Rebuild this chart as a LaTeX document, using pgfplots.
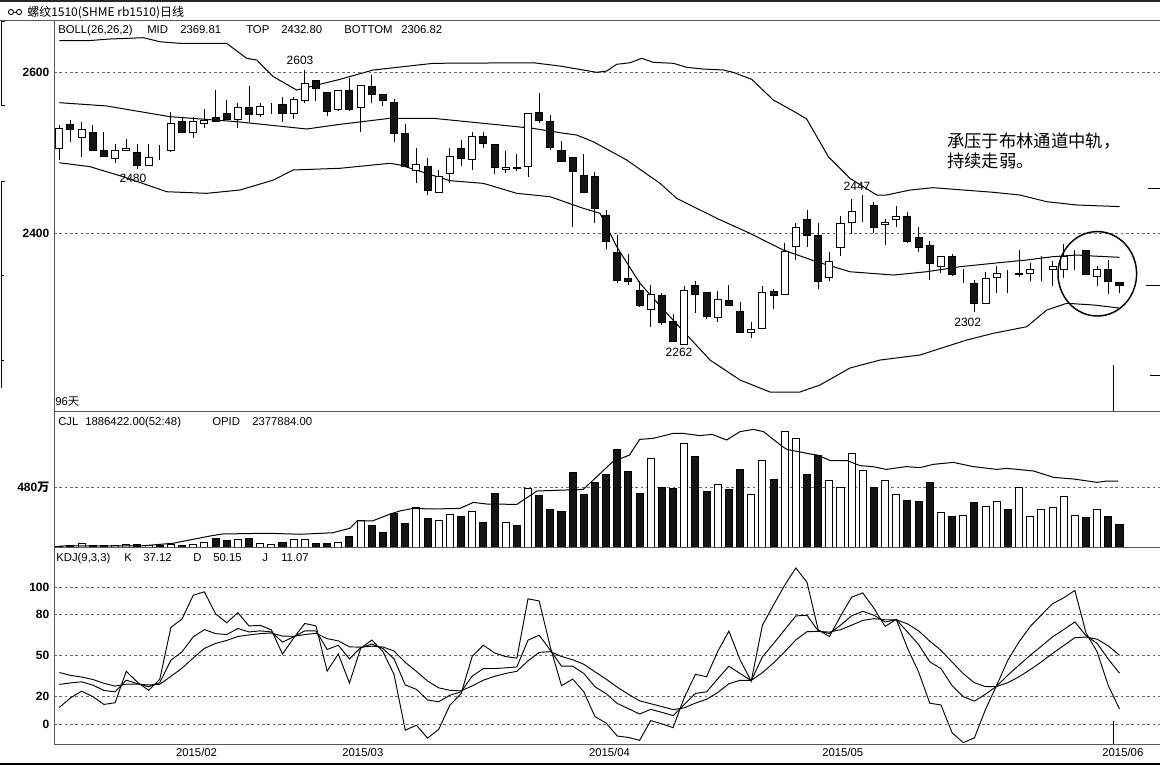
\documentclass[border=0pt]{standalone}
\usepackage{fontspec}
\setmainfont{Liberation Sans}
\newfontfamily\cjk{Noto Sans CJK SC}
\usepackage{pgfplots}
\usepackage{pgfplotstable}
\pgfplotsset{compat=1.18}

\pgfplotstableread{
i o h l c u v
0 2505 2534 2491 2530 1 5
1 2535 2541 2513 2528 0 16
2 2519 2538 2494 2528 1 29
3 2525 2534 2503 2503 0 16
4 2503 2525 2495 2495 0 13
5 2493 2510 2487 2502 1 13
6 2502 2517 2502 2505 1 21
7 2500 2510 2480 2484 0 21
8 2484 2510 2484 2494 1 11
9 2501 2509 2491 2501 0 13
10 2503 2550 2501 2536 1 24
11 2538 2544 2525 2525 0 16
12 2525 2544 2518 2538 1 24
13 2536 2554 2531 2540 1 37
14 2543 2578 2538 2538 0 72
15 2549 2565 2540 2541 0 56
16 2541 2562 2531 2556 1 61
17 2556 2582 2538 2547 0 72
18 2547 2562 2544 2557 1 29
19 2557 2562 2548 2557 1 24
20 2560 2569 2538 2548 0 37
21 2549 2569 2542 2566 1 61
22 2565 2603 2562 2586 1 61
23 2589 2589 2564 2580 0 29
24 2574 2574 2545 2551 0 29
25 2554 2577 2552 2577 1 37
26 2577 2592 2552 2554 0 88
27 2556 2583 2526 2583 1 211
28 2582 2596 2561 2572 0 176
29 2572 2572 2558 2565 0 120
30 2562 2567 2513 2523 0 269
31 2523 2535 2483 2483 0 189
32 2478 2505 2462 2485 1 317
33 2483 2493 2447 2453 0 232
34 2450 2478 2450 2470 1 216
35 2474 2506 2462 2495 1 261
36 2505 2516 2483 2492 0 248
37 2491 2525 2478 2520 1 288
38 2520 2525 2505 2511 0 200
39 2510 2510 2473 2482 0 432
40 2479 2502 2474 2482 1 197
41 2482 2498 2477 2480 0 176
42 2483 2549 2470 2548 1 469
43 2550 2574 2537 2540 0 416
44 2538 2547 2503 2506 0 304
45 2502 2514 2489 2489 0 288
46 2494 2494 2407 2476 0 600
47 2472 2498 2450 2450 0 424
48 2470 2476 2413 2430 0 520
49 2422 2428 2380 2389 0 584
50 2376 2398 2338 2341 0 784
51 2343 2374 2335 2340 0 608
52 2329 2340 2308 2310 0 432
53 2305 2335 2283 2324 1 709
54 2323 2325 2286 2289 0 480
55 2290 2299 2265 2265 0 472
56 2262 2334 2262 2328 1 829
57 2335 2340 2301 2324 0 728
58 2326 2326 2293 2296 0 448
59 2295 2328 2290 2318 1 501
60 2316 2335 2310 2310 0 464
61 2303 2314 2277 2277 0 624
62 2277 2290 2269 2280 1 421
63 2282 2334 2282 2326 1 693
64 2327 2331 2305 2322 0 544
65 2324 2387 2324 2377 1 928
66 2383 2412 2366 2407 1 869
67 2417 2429 2383 2397 0 584
68 2397 2412 2330 2340 0 736
69 2345 2376 2340 2364 1 533
70 2382 2421 2371 2412 1 477
71 2413 2442 2399 2427 1 749
72 2429 2447 2414 2429 1 613
73 2434 2438 2400 2407 0 477
74 2410 2418 2385 2413 1 533
75 2417 2433 2407 2421 1 421
76 2420 2426 2388 2390 0 376
77 2395 2408 2376 2382 0 368
78 2384 2390 2342 2362 0 520
79 2359 2371 2350 2371 1 277
80 2371 2374 2347 2349 0 248
81 2342 2355 2338 2342 1 253
82 2337 2342 2302 2313 0 360
83 2313 2352 2313 2344 1 325
84 2345 2359 2326 2350 1 368
85 2348 2354 2326 2348 0 304
86 2348 2379 2345 2350 1 477
87 2350 2363 2340 2355 1 248
88 2355 2371 2340 2355 1 304
89 2355 2365 2334 2359 1 317
90 2355 2386 2344 2371 1 405
91 2376 2379 2354 2376 1 253
92 2378 2378 2348 2348 0 240
93 2346 2359 2334 2355 1 304
94 2355 2366 2324 2340 0 248
95 2338 2338 2326 2335 0 184
}\candles

\pgfplotstableread{
i K D J
0 28.9 37.6 12.1
1 30.0 35.5 19.0
2 30.8 34.3 24.0
3 28.4 32.5 20.0
4 24.5 29.7 14.3
5 23.5 27.7 15.5
6 32.0 29.1 38.5
7 29.5 29.1 30.5
8 27.2 28.5 24.6
9 30.2 29.0 32.6
10 46.6 34.8 70.5
11 52.7 40.8 76.7
12 63.6 48.2 94.0
13 68.9 55.2 96.5
14 66.0 58.8 80.5
15 65.3 61.0 73.9
16 69.7 63.9 81.3
17 67.2 65.0 71.6
18 68.0 66.0 72.0
19 67.2 66.4 68.8
20 59.8 64.2 51.0
21 63.6 64.0 62.8
22 68.0 65.3 73.4
23 68.0 66.2 71.6
24 54.4 62.3 38.6
25 57.5 60.7 51.1
26 47.5 56.3 29.9
27 55.8 56.1 55.2
28 58.3 56.8 61.3
29 55.1 56.2 52.9
30 47.5 53.3 36.0
31 28.5 45.0 -4.5
32 25.3 38.4 -0.9
33 17.5 31.4 -10.3
34 16.3 26.4 -3.9
35 21.0 24.6 13.8
36 23.5 24.2 22.1
37 35.0 27.8 49.4
38 40.5 32.0 57.5
39 40.5 34.8 51.9
40 41.0 36.9 49.2
41 41.7 38.5 48.1
42 61.2 46.1 91.4
43 64.8 52.3 89.8
44 53.9 52.8 56.1
45 42.2 49.3 28.0
46 42.2 46.9 32.8
47 36.9 43.6 23.5
48 27.2 38.1 5.4
49 22.1 32.8 0.7
50 15.0 26.9 -8.8
51 11.2 21.7 -9.8
52 7.3 16.9 -11.9
53 10.7 14.8 2.5
54 8.5 12.7 0.1
55 6.1 10.5 -2.7
56 14.3 11.8 19.3
57 22.3 15.3 36.3
58 23.5 18.0 34.5
59 33.0 23.0 53.0
60 42.2 29.4 67.8
61 36.9 31.9 46.9
62 31.6 31.8 31.2
63 49.0 37.5 72.0
64 58.7 44.6 86.9
65 68.9 52.7 101.3
66 78.9 61.4 113.9
67 79.4 67.4 103.4
68 68.0 67.6 68.8
69 66.0 67.1 63.8
70 72.1 68.8 78.7
71 79.0 72.2 92.6
72 82.3 75.6 95.7
73 79.4 76.9 84.4
74 74.5 76.1 71.3
75 76.2 76.1 76.4
76 67.2 73.1 55.4
77 58.0 68.0 38.0
78 45.4 60.5 15.2
79 40.5 53.8 13.9
80 28.0 45.2 -6.4
81 20.0 36.8 -13.6
82 16.7 30.1 -10.1
83 21.8 27.3 10.8
84 27.7 27.4 28.3
85 35.7 30.2 46.7
86 43.0 34.5 60.0
87 50.2 39.7 71.2
88 56.8 45.4 79.6
89 63.6 51.5 87.8
90 68.9 57.3 92.1
91 74.5 63.0 97.5
92 64.5 63.5 66.5
93 58.8 61.9 52.6
94 47.3 57.0 27.9
95 37.12 50.15 11.07
}\kdj

\pgfplotstableread{
i up
0 2638.9
2.57 2638.9
4.54 2641.0
7.53 2642.6
9.02 2637.6
10.82 2635.6
15.0 2635.6
16.79 2617.0
17.69 2614.9
19.18 2594.2
21.27 2577.6
25.15 2590.9
28.14 2602.5
33.51 2610.8
42.47 2611.5
44.87 2607.4
48.15 2599.6
49.05 2601.2
49.95 2609.6
51.14 2611.5
52.19 2617.0
53.23 2612.0
55.02 2610.8
56.22 2605.8
57.71 2603.7
59.5 2602.5
60.39 2599.6
62.04 2590.9
63.98 2565.2
65.77 2551.5
66.97 2541.6
68.91 2494.8
70.85 2467.9
73.24 2447.2
74.14 2447.2
76.23 2453.4
78.29 2456.3
83.67 2450.6
86.08 2447.2
88.48 2438.9
91.17 2434.8
95 2432.8
}\bollup

\pgfplotstableread{
i mid
0 2561.9
4.25 2557.8
9.92 2544.5
15.9 2538.3
22.17 2529.2
25.15 2535.0
29.63 2542.5
33.49 2542.5
39.49 2534.2
42.45 2530.0
44.87 2524.6
46.36 2521.7
47.85 2513.4
50.84 2490.7
53.83 2461.7
55.32 2443.1
58.91 2418.3
61.89 2399.6
64.87 2378.9
67.87 2364.3
70.85 2351.9
74.73 2347.8
77.72 2351.9
80.71 2358.1
83.69 2362.4
86.69 2366.5
89.04 2370.6
91.17 2372.7
92.63 2371.4
95 2369.8
}\bollmid

\pgfplotstableread{
i low
0 2487.3
2.75 2482.4
5.73 2469.9
9.62 2451.3
13.21 2449.3
16.19 2453.4
19.18 2465.8
20.97 2478.3
25.15 2480.4
29.63 2486.6
30.53 2484.5
35.0 2465.0
37.99 2461.7
40.99 2449.3
43.97 2445.1
46.95 2430.7
48.45 2424.5
49.95 2383.0
52.03 2337.5
54.43 2300.3
58.31 2242.2
61.0 2217.4
63.68 2202.5
66.37 2202.5
68.16 2211.2
70.85 2232.3
73.54 2242.2
77.12 2248.5
81.31 2267.1
83.69 2275.4
86.69 2283.6
88.48 2304.3
90.27 2312.7
92.65 2310.6
95 2306.8
}\bolllow

\pgfplotstableread{
i v
0 8
7.5 10
10.2 30
13.5 88
14.6 104
18.6 110
21.6 102
24.5 114
26.05 150
26.7 210
28.1 210
29.6 262
30.5 288
31.7 309
33.5 304
35.9 309
37.1 357
38.3 344
41.0 341
42.8 448
46.95 461
49.6 683
51.1 736
52.0 861
53.2 869
55.0 909
55.9 909
57.4 891
58.5 901
59.8 856
61.0 923
62.2 941
63.1 923
64.85 800
65.2 781
67.3 744
67.9 736
69.1 691
70.6 691
71.75 651
72.9 643
74.1 621
75.9 643
77.1 635
78.3 661
80.1 677
81.9 643
84.0 621
84.9 629
87.3 608
89.1 557
90.9 544
93.0 517
93.85 528
94.9 528
}\opid

\begin{document}
\begin{tikzpicture}
\path[use as bounding box] (0pt,0pt) rectangle (870pt,-573.75pt);
\pgfplotsset{
  panel/.style={scale only axis, width=829.5pt, anchor=south west,
    xmin=-0.475, xmax=98.63, clip=true, axis line style={draw=none},
    major tick length=0pt,
    grid style={black!60, dash pattern=on 2pt off 2pt, line width=0.6pt},
    tick label style={font=\fontsize{8.5}{10}\selectfont},
    yticklabel style={font=\fontsize{9}{10}\selectfont\bfseries}},
}
% ---------- price panel ----------
\begin{axis}[panel, at={(40.5pt,-308.25pt)}, height=293.25pt,
  ymin=2178.9, ymax=2664.6, xtick=\empty,
  ytick={2400,2600}, yticklabels={2400,2600}, ymajorgrids]
\addplot[draw=none, error bars/.cd, y dir=plus, y explicit, error mark=none,
  error bar style={draw=black, solid, line width=0.75pt}]
  table[x=i, y=l, y error expr=\thisrow{h}-\thisrow{l}] {\candles};
\addplot[black, line width=0.75pt] table[x=i, y=up] {\bollup};
\addplot[black, line width=0.75pt] table[x=i, y=mid] {\bollmid};
\addplot[black, line width=0.75pt] table[x=i, y=low] {\bolllow};
\end{axis}
\begin{axis}[panel, at={(40.5pt,-308.25pt)}, height=293.25pt,
  ymin=2178.9, ymax=2664.6, hide axis, ybar stacked, bar width=5.3pt]
\addplot[draw=none, fill=none] table[x=i, y expr={min(\thisrow{o},\thisrow{c})}] {\candles};
\addplot[draw=black, fill=white, line width=0.75pt]
  table[x=i, y expr={\thisrow{u}*abs(\thisrow{c}-\thisrow{o})}] {\candles};
\addplot[draw=black, fill=black!92, line width=0.75pt]
  table[x=i, y expr={(1-\thisrow{u})*abs(\thisrow{c}-\thisrow{o})}] {\candles};
\node[font=\fontsize{9}{10}\selectfont] at (axis cs:21.57,2614.9) {2603};
\node[font=\fontsize{9}{10}\selectfont] at (axis cs:6.6,2468.3) {2480};
\node[font=\fontsize{9}{10}\selectfont] at (axis cs:55.53,2252.2) {2262};
\node[font=\fontsize{9}{10}\selectfont] at (axis cs:71.48,2458.4) {2447};
\node[font=\fontsize{9}{10}\selectfont] at (axis cs:81.4,2289.4) {2302};
\end{axis}
% ---------- volume panel ----------
\begin{axis}[panel, at={(40.5pt,-411pt)}, height=102.75pt,
  ymin=-8, ymax=1088, xtick=\empty,
  ytick={480}, yticklabels={{480{\cjk 万}}}, ymajorgrids]
\addplot[ybar, bar width=5.3pt, bar shift=0pt, draw=black, fill=white, line width=0.75pt]
  table[x=i, y expr={\thisrow{u}*\thisrow{v}}] {\candles};
\addplot[ybar, bar width=5.3pt, bar shift=0pt, draw=black, fill=black!92, line width=0.75pt]
  table[x=i, y expr={(1-\thisrow{u})*\thisrow{v}}] {\candles};
\addplot[black, line width=0.75pt] table[x=i, y=v] {\opid};
\end{axis}
% ---------- KDJ panel ----------
\begin{axis}[panel, at={(40.5pt,-558pt)}, height=147pt,
  ymin=-14.6, ymax=128.47,
  ytick={0,20,50,80,100}, yticklabels={0,20,50,80,100}, ymajorgrids,
  xtick={12.3,27.2,49.3,70.2,95.3},
  xticklabels={2015/02,2015/03,2015/04,2015/05,2015/06}]
\addplot[black, line width=0.7pt] table[x=i, y=K] {\kdj};
\addplot[black, line width=0.7pt] table[x=i, y=D] {\kdj};
\addplot[black, line width=0.7pt] table[x=i, y=J] {\kdj};
\end{axis}
% ---------- frame and texts (pixel units) ----------
\begin{scope}[x=0.75pt, y=-0.75pt]
\draw[black!85, line width=1.5pt] (0,1) -- (1160,1);
\draw[black!65, line width=0.75pt] (0,20.5) -- (1160,20.5);
\draw[black!65, line width=0.75pt] (54,20.5) -- (54,744);
\draw[black!65, line width=0.75pt] (54,411) -- (1160,411);
\draw[black!65, line width=0.75pt] (54,547.5) -- (1160,547.5);
\draw[black!65, line width=0.75pt] (54,744) -- (1160,744);
\draw[black, line width=1.6pt] (0,764) -- (1160,764);
% left side brackets
\draw[black, line width=0.75pt] (5,21) -- (1,21) -- (1,105) -- (5,105);
\draw[black, line width=0.75pt] (5,181) -- (1,181) -- (1,388);
\draw[black, line width=0.75pt] (1,275) -- (4,275);
\draw[black, line width=0.75pt] (1,360) -- (4,360);
% right side markers
\draw[black, line width=0.75pt] (1148,188) -- (1160,188);
\draw[black, line width=0.75pt] (1146,285) -- (1160,285);
\draw[black, line width=0.75pt] (1150,375) -- (1160,375);
% cursor line
\draw[black, line width=0.75pt] (1113,365) -- (1113,411);
\draw[black, line width=0.75pt] (1113,721) -- (1113,744);
% title
\draw[black, line width=0.7pt] (11,12) circle (2.6);
\draw[black, line width=0.7pt] (19,12) circle (2.6);
\draw[black, line width=0.7pt] (13.6,12) -- (16.4,12);
\node[anchor=base west, inner sep=0pt, font=\cjk\fontsize{9}{10}\selectfont] at (27,16) {螺纹1510(SHME rb1510)日线};
% headers
\begin{scope}[every node/.style={anchor=base west, inner sep=0pt, font=\fontsize{8.5}{10}\selectfont}]
\node at (58,33.5) {BOLL(26,26,2)};
\node at (147,33.5) {MID};
\node at (180,33.5) {2369.81};
\node at (246,33.5) {TOP};
\node at (281,33.5) {2432.80};
\node at (344,33.5) {BOTTOM};
\node at (401,33.5) {2306.82};
\node at (55,405) {96{\cjk 天}};
\node at (58,425.5) {CJL};
\node at (85,425.5) {1886422.00(52:48)};
\node at (212,425.5) {OPID};
\node at (252,425.5) {2377884.00};
\node at (56,561) {KDJ(9,3,3)};
\node at (124,561) {K};
\node at (143,561) {37.12};
\node at (193,561) {D};
\node at (213,561) {50.15};
\node at (262,561) {J};
\node at (281,561) {11.07};
\end{scope}
% annotation
\node[anchor=base west, inner sep=0pt, font=\cjk\fontsize{13}{15}\selectfont] at (947,147) {承压于布林通道中轨，};
\node[anchor=base west, inner sep=0pt, font=\cjk\fontsize{13}{15}\selectfont] at (947,167) {持续走弱。};
\draw[black, line width=1.1pt] (1097.3,273.8) ellipse [x radius=39.3, y radius=42.2];
\end{scope}
\end{tikzpicture}
\end{document}
